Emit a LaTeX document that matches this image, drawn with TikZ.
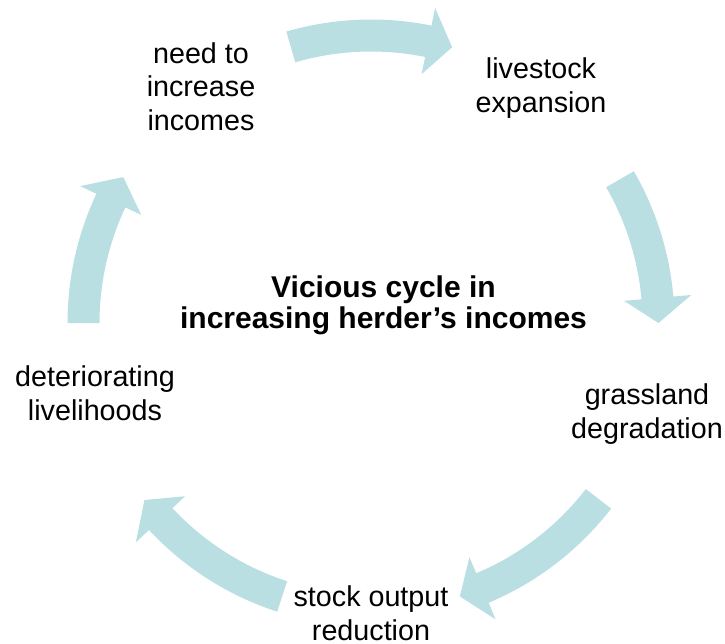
\documentclass[tikz,border=0pt]{standalone}
\usepackage{fontspec}
\setmainfont{Liberation Sans}
\usetikzlibrary{calc}
\definecolor{arrowteal}{RGB}{185,223,227}
\tikzset{
  lbl/.style={align=center, anchor=base, inner sep=0pt, font=\fontsize{28.7}{33.5}\selectfont},
  ttl/.style={align=center, anchor=base, inner sep=0pt, font=\fontsize{30}{31}\selectfont\bfseries},
  cyc/.style={fill=arrowteal, draw=none}
}
% #1 tail angle, #2 head-base angle, #3 tip angle
\newcommand\cycarrow[3]{%
  \fill[cyc] ($(c)+(#1:303.5)$) arc[start angle=#1, end angle=#2, radius=303.5]
    -- ($(c)+(#2:321.5)$) -- ($(c)+(#3:287.5)$) -- ($(c)+(#2:254)$)
    -- ($(c)+(#2:271.5)$) arc[start angle=#2, end angle=#1, radius=271.5] -- cycle;}
\begin{document}
\begin{tikzpicture}[x=1pt,y=1pt]
\useasboundingbox (0,0) rectangle (725,-643);
\coordinate (c) at (371,-323);
\cycarrow{106.2}{78.5}{73.6}
\cycarrow{30}{5}{0}
\cycarrow{-37.7}{-67.2}{-72}
\cycarrow{252}{223}{218}
\cycarrow{180}{154.8}{149.5}
\node[lbl] (need) at (201,-130) {need to\\increase\\incomes};
\node[lbl] (live) at (541,-112) {livestock\\expansion};
\node[lbl] (grass) at (647,-438) {grassland\\degradation};
\node[lbl] (stock) at (371,-640) {stock output\\reduction};
\node[lbl] (det) at (95,-420) {deteriorating\\livelihoods};
\node[ttl] (title) at (383.5,-328) {Vicious cycle in\\increasing herder’s incomes};
\end{tikzpicture}
\end{document}
